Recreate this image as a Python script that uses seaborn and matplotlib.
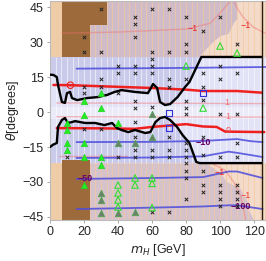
import numpy as np
import pandas as pd
import matplotlib
matplotlib.use("Agg")
import matplotlib.pyplot as plt
import seaborn as sns
from matplotlib.patches import Polygon

# ---------------- data ----------------
# black exclusion boundaries (m_H [GeV], theta [deg])
upper_bound_x = [0, 2, 4, 4.7, 7, 8.8, 10, 11.8, 12.9, 15.9, 22, 28, 33.5, 38, 42, 50, 57.6, 60.6, 63, 64.7, 67.6, 70.6, 75, 79.4, 82, 86, 89, 124.5]
upper_bound_y = [16, 15.9, 15, 11.6, 4.3, 3.9, 8.1, 8.6, 6.0, 5.1, 6.0, 6.4, 7.3, 8.6, 9.4, 8.6, 8.1, 12.0, 10.3, 4.3, 3.0, 3.4, 6.4, 10.7, 12.9, 19.0, 23.6, 23.6]
lower_bound_x = [0, 1.8, 4, 4.7, 7, 8.8, 10.6, 13, 14.7, 20.6, 26.5, 32, 36.5, 39.4, 42, 46, 50, 56, 59, 62, 64.7, 67.6, 70.6, 74.7, 78, 82, 86, 88, 124.5]
lower_bound_y = [-15, -14, -13.3, -6.4, -3.4, -2.6, -4.7, -4.3, -3.9, -4.7, -4.7, -5.6, -4.7, -6.9, -7.7, -8.6, -7.7, -9.0, -8.6, -4.3, -2.6, -2.1, -3.4, -6.4, -9.9, -13.3, -21.4, -21.9, -21.9]

# thick red contours
red_up_x = [2, 12, 40, 60, 80, 90, 110, 124.5]
red_up_y = [11.6, 11.5, 10.8, 10.3, 9.6, 9.0, 9.0, 8.3]
red_lo_x = [4, 30, 50, 60, 80, 90, 98, 103, 126]
red_lo_y = [-6.9, -7.0, -7.2, -6.4, -5.2, -6.2, -6.4, -8.4, -8.6]

# thin pink contours
pink_a_x = [7, 41, 80.5, 94, 100, 106]
pink_a_y = [33.8, 34.3, 35.6, 38.0, 42.4, 47.6]
pink_b_x = [108, 110, 113.5, 119.5, 126.5]
pink_b_y = [47.6, 44.6, 40.7, 36.4, 33.8]
pink_c_x = [4, 126]
pink_c_y = [3.9, 3.6]
pink_d_x = [4, 126]
pink_d_y = [-2.0, -2.2]
pink_e_x = [5, 45]
pink_e_y = [-19.0, -19.0]
pink_f_x = [95, 103, 108, 112, 114, 115]
pink_f_y = [-22, -25, -30, -36, -42, -46.3]

# blue contours
blue_1_x = [15.6, 60, 90, 127]
blue_1_y = [18.6, 18.8, 19.0, 19.3]
blue_2_x = [15.6, 60, 90, 100, 110, 118, 125]
blue_2_y = [-12.9, -12.8, -12.4, -12.0, -11.6, -12.5, -12.9]
blue_3_x = [15.6, 60, 90, 105, 110, 125]
blue_3_y = [-19.7, -19.5, -19.0, -17.0, -17.5, -19.3]
blue_4_x = [15.6, 60, 90, 105, 110, 125]
blue_4_y = [-28.7, -28.3, -27.9, -25.5, -25.5, -28.3]
blue_5_x = [15.6, 60, 90, 105, 110, 125]
blue_5_y = [-41.6, -41.0, -40.5, -40.0, -40.0, -41.6]

# scan points
cross_x = [20, 20, 30, 30, 50, 50, 50, 60, 60, 60, 70, 70, 80, 80, 80, 90, 100, 110,
           20, 20, 30, 30, 40, 40, 40, 50, 50, 50, 50, 60, 60, 60, 70, 70, 80, 80, 80, 80,
           90, 90, 90, 100, 100, 100, 110, 110,
           10, 20, 30, 40, 50, 50, 50, 50, 60, 60, 70, 70, 70,
           80, 80, 80, 80, 80, 80, 80, 90, 90, 90, 90, 90,
           100, 100, 100, 100, 100, 110, 110, 110, 110, 110, 110, 60, 70]
cross_y = [32, 25.7, 44, 25.7, 40.7, 37.7, 32, 44, 25.7, 22.7, 44, 25.7, 40.7, 29, 25.7, 34.7, 40.7, 29.1,
           10.7, 8.1, 14, 10.7, 19.7, 16.7, 8.1, 19.7, 16.7, 4.7, 1.7, 19.7, 16.7, 2.0, 14.1, 10.7, 14, 4.7, 1.7, -0.9,
           16.7, 10.7, 5.1, 19.7, 14, -0.9, 16.7, -0.9,
           -19.3, -7.3, -7.3, -19.3, -4.3, -10.7, -16.3, -19.3, -16.3, -19.3, -10.7, -16.3, -19.3,
           -13.3, -16.3, -19.3, -22, -25.3, -28.3, -37.3, -10.7, -18.4, -25.5, -31.3, -34.3,
           -19.3, -31.3, -34.3, -37.3, -40.3, -13.3, -19.3, -31.3, -34.3, -37.3, -40.3, -42.9, -42.9]
green_x = [10, 10, 10, 10, 20, 20, 20, 20, 20, 30, 30, 30, 30, 40]
green_y = [-4.7, -7.7, -13.3, -16.3, 4.7, -1.3, -13.3, -19.3, -31.5, 8.1, 1.7, -19.3, -22.7, -4.5]
hollow_x = [80, 100, 110, 90, 40, 40, 40, 40, 50, 50, 60, 60, 60]
hollow_y = [19.7, 28.3, 25.3, 1.7, -31.3, -34.7, -37.7, -40.7, -28.3, -31.3, -28.3, -30.6, -41.0]
grey_x = [60, 60, 40, 50, 30, 30, 30, 40, 50]
grey_y = [-0.8, -10.7, -13.3, -13.3, -34.7, -37.7, -43.3, -43.3, -43.0]
square_x = [70, 70, 90]
square_y = [-0.4, -6.9, 8.1]
circle_x = [12]
circle_y = [11.5]

x_ticks = [0, 20, 40, 60, 80, 100, 120]
y_ticks = [-45, -30, -15, 0, 15, 30, 45]

# ---------------- figure ----------------
sns.set_theme(style="ticks")
plt.rcParams["font.family"] = ["Liberation Sans", "DejaVu Sans"]
plt.rcParams["mathtext.fontset"] = "dejavusans"

fig = plt.figure(figsize=(2.66, 2.61), dpi=100)
ax = fig.add_axes([50 / 266, 41 / 261, 216 / 266, 219 / 261])
XMIN, XMAX, YMIN, YMAX = 0, 127, -46.3, 47.6
ax.set_xlim(XMIN, XMAX)
ax.set_ylim(YMIN, YMAX)

BAND_TOP, BAND_BOT = 23.6, -22.0
# base peach
ax.add_patch(Polygon([(XMIN, YMIN), (XMAX, YMIN), (XMAX, YMAX), (XMIN, YMAX)], closed=True,
                     fc="#f4dac8", ec="none", zorder=0))
# greyish regions above and below the band
ax.add_patch(Polygon([(0, BAND_TOP), (88, BAND_TOP), (92, 27), (96, 30), (100, 32.5), (105, 33.5),
                      (108, 38), (110, 40), (110, YMAX), (0, YMAX)], closed=True,
                     fc="#cfbcc8", ec="none", zorder=0.5))
ax.add_patch(Polygon([(0, BAND_BOT), (92, BAND_BOT), (100, -26), (104, -30), (112, -33), (116, -38),
                      (117, -42), (120, YMIN), (0, YMIN)], closed=True,
                     fc="#d6c2ca", ec="none", zorder=0.5))
ax.add_patch(Polygon([(0, BAND_TOP), (7, BAND_TOP), (7, YMAX), (0, YMAX)], closed=True,
                     fc="#efcca8", ec="none", zorder=0.6))
ax.add_patch(Polygon([(0, BAND_BOT), (7, BAND_BOT), (7, YMIN), (0, YMIN)], closed=True,
                     fc="#efcca8", ec="none", zorder=0.6))
# lavender band
ax.add_patch(Polygon([(0, BAND_BOT), (XMAX, BAND_BOT), (XMAX, BAND_TOP), (0, BAND_TOP)], closed=True,
                     fc="#cacaeb", ec="none", zorder=0.7))
# lighter allowed region between the black curves
allowed = list(zip(upper_bound_x, upper_bound_y)) + [(XMAX, BAND_TOP), (XMAX, BAND_BOT)] + \
    list(zip(lower_bound_x, lower_bound_y))[::-1]
ax.add_patch(Polygon(allowed, closed=True, fc="#e3e3f7", ec="none", zorder=0.8))
ax.axhspan(-2.8, 2.0, xmin=0, xmax=1, color="white", alpha=0.35, lw=0, zorder=0.9)

# vertical stripes
stripes = np.arange(10 / 3, XMAX, 10 / 3)
ax.vlines(stripes, BAND_BOT, BAND_TOP, colors="white", alpha=0.55, lw=0.7, zorder=1)
ax.vlines(stripes, BAND_TOP, YMAX, colors="#f3c9a0", alpha=0.7, lw=0.7, zorder=1)
ax.vlines(stripes, YMIN, BAND_BOT, colors="#f3c9a0", alpha=0.7, lw=0.7, zorder=1)

# brown excluded blocks
brown = "#9d6b3b"
ax.add_patch(Polygon([(7, BAND_TOP), (23.5, BAND_TOP), (23.5, 37.3), (33.5, 37.3), (33.5, YMAX), (7, YMAX)],
                     closed=True, fc=brown, ec="none", zorder=1.5))
ax.add_patch(Polygon([(7, -20.6), (23.5, -20.6), (23.5, YMIN), (7, YMIN)],
                     closed=True, fc=brown, ec="none", zorder=1.5))

def line(xs, ys, color, lw, alpha=1.0, z=2):
    sns.lineplot(x=xs, y=ys, sort=False, estimator=None, color=color, lw=lw, alpha=alpha,
                 ax=ax, zorder=z, legend=False)

for px_, py_ in [(pink_a_x, pink_a_y), (pink_b_x, pink_b_y), (pink_c_x, pink_c_y),
                 (pink_d_x, pink_d_y), (pink_e_x, pink_e_y), (pink_f_x, pink_f_y)]:
    line(px_, py_, "#f07070", 1.0, alpha=0.45, z=2)
for bx, by in [(blue_1_x, blue_1_y), (blue_2_x, blue_2_y), (blue_3_x, blue_3_y),
               (blue_4_x, blue_4_y), (blue_5_x, blue_5_y)]:
    line(bx, by, "#4b4bdc", 1.3, alpha=0.85, z=2.2)
line(red_up_x, red_up_y, "#ee2020", 1.8, z=2.4)
line(red_lo_x, red_lo_y, "#ee2020", 1.8, z=2.4)
line(upper_bound_x, upper_bound_y, "black", 1.7, z=3)
line(lower_bound_x, lower_bound_y, "black", 1.7, z=3)
ax.vlines([124.5], YMIN, YMAX, colors="#2a1a0a", lw=1.0, zorder=3)

# contour labels
lab = dict(fontsize=6.5, ha="center", va="center", zorder=4)
ax.text(84, 35.6, "\u22121", color="#ee2020", **lab)
ax.text(115, 37.3, "\u22121", color="#ee2020", **lab)
ax.text(104, 3.9, "1", color="#f07070", **lab)
ax.text(104.7, -2.0, "1", color="#f07070", **lab)
ax.text(105, -8.0, "0", color="#f05050", **lab)
ax.text(100, -26, "\u22121", color="#ee2020", **lab)
ax.text(115, -35.6, "\u22121", color="#ee4040", **lab)
ax.text(20.6, -28.7, "\u221250", color="#660066", fontweight="bold", **lab)
ax.text(90, -12.9, "\u221210", color="#660066", fontweight="bold", **lab)
ax.text(112, -40.7, "\u2212100", color="#660066", fontweight="bold", **lab)

# markers
sns.scatterplot(x=cross_x, y=cross_y, marker="x", s=6, color="#222222", linewidth=0.7, ax=ax, zorder=5)
sns.scatterplot(x=green_x, y=green_y, marker="^", s=22, color="#22ee22", edgecolor="#22cc22",
                linewidth=0.4, ax=ax, zorder=5)
sns.scatterplot(x=hollow_x, y=hollow_y, marker="^", s=22, facecolor="none", edgecolor="#33dd33",
                linewidth=0.8, ax=ax, zorder=5)
sns.scatterplot(x=grey_x, y=grey_y, marker="^", s=22, color="#6f7f6f", edgecolor="#44aa44",
                linewidth=0.5, ax=ax, zorder=5)
sns.scatterplot(x=square_x, y=square_y, marker="s", s=20, facecolor="none", edgecolor="#3333dd",
                linewidth=0.8, ax=ax, zorder=5)
sns.scatterplot(x=circle_x, y=circle_y, marker="o", s=22, facecolor="none", edgecolor="#ee2020",
                linewidth=0.8, ax=ax, zorder=5)

# axes styling
ax.set_xticks(x_ticks)
ax.set_yticks(y_ticks)
ax.tick_params(labelsize=9, length=2.5, width=0.6, color="#999999", pad=2, direction="out")
for s in ax.spines.values():
    s.set_color("#bbbbbb")
    s.set_linewidth(0.8)
ax.set_xlabel(r"$m_H$ [GeV]", fontsize=9, labelpad=3)
ax.set_ylabel(r"$\theta$[degrees]", fontsize=9, labelpad=1)
ax.grid(False)

fig.savefig("out.png", dpi=100)
